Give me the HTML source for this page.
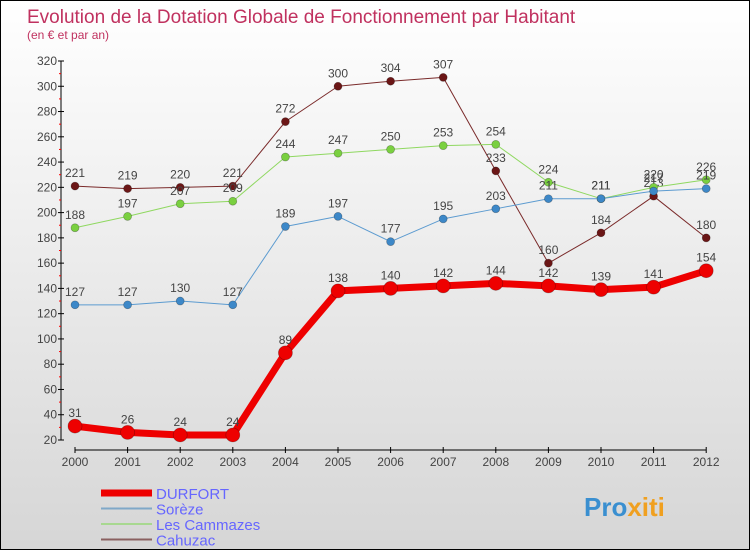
<!DOCTYPE html>
<html><head><meta charset="utf-8"><style>
html,body{margin:0;padding:0}
body{width:750px;height:550px;overflow:hidden;font-family:"Liberation Sans",sans-serif}
#c{position:absolute;left:0;top:0;width:748px;height:548px;border:1px solid #000;background:linear-gradient(#fff,#d6d6d6)}
</style></head><body>
<div id="c">
<svg id="s" width="748" height="548" xmlns="http://www.w3.org/2000/svg"></svg>
</div>
<script>
const years=[2000,2001,2002,2003,2004,2005,2006,2007,2008,2009,2010,2011,2012];
const durfort=[31,26,24,24,89,138,140,142,144,142,139,141,154];
const soreze=[127,127,130,127,189,197,177,195,203,211,211,217,219];
const cammazes=[188,197,207,209,244,247,250,253,254,224,211,220,226];
const cahuzac=[221,219,220,221,272,300,304,307,233,160,184,213,180];
const yTicks=[20,40,60,80,100,120,140,160,180,200,220,240,260,280,300,320];
const ns="http://www.w3.org/2000/svg";
const s=document.getElementById('s');
function X(i){return 74+i*52.6;}
function Y(v){return 439-(v-20)*(379/300);}
function el(t,a,txt){const e=document.createElementNS(ns,t);for(const k in a)e.setAttribute(k,a[k]);if(txt!==undefined)e.textContent=txt;s.appendChild(e);return e;}
let e;
e=el('text',{x:26,y:22,'font-size':19,fill:'#c0315f'},'Evolution de la Dotation Globale de Fonctionnement par Habitant');

e=el('text',{x:26,y:38,'font-size':12,fill:'#c0315f'},'(en € et par an)');

e=el('line',{x1:60,y1:Y(320),x2:60,y2:Y(20),stroke:'#000'});

yTicks.forEach((v,i)=>{
 e=el('line',{x1:57,y1:Y(v),x2:63,y2:Y(v),stroke:'#000'});
 
 if(i<yTicks.length-1){e=el('line',{x1:58,y1:Y(v+10),x2:60,y2:Y(v+10),stroke:'#f00'});
 }
 e=el('text',{x:56,y:Y(v)+4,'font-size':12,fill:'#444','text-anchor':'end'},v);
 
});
e=el('line',{x1:X(0),y1:449,x2:X(12),y2:449,stroke:'#000'});

years.forEach((y,i)=>{
 e=el('line',{x1:X(i),y1:446,x2:X(i),y2:452,stroke:'#000'});
 
 e=el('text',{x:X(i),y:465,'font-size':12,fill:'#444','text-anchor':'middle'},y);
 
});
function series(d,col,dot,w,r,name){
 e=el('polyline',{points:d.map((v,i)=>X(i)+','+Y(v)).join(' '),fill:'none',stroke:col,'stroke-width':w,'stroke-linejoin':'round'});
 
 d.forEach((v,i)=>{
  e=el('circle',{cx:X(i),cy:Y(v),r:r,fill:dot,stroke:'rgba(0,0,0,0.3)','stroke-width':0.7});
  
  e=el('text',{x:X(i),y:Y(v)-9,'font-size':12,fill:'#444','text-anchor':'middle'},v);
  
 });
}
series(cahuzac,'#7a2a2a','#6b1616',1,4,'cahuzac');
series(cammazes,'#8fd860','#7ad040',1,4,'cammazes');
series(soreze,'#5c9bd0','#3d88c8',1,4,'soreze');
series(durfort,'#ee0000','#ee0000',7,7,'durfort');
const leg=[['DURFORT','#ee0000',7],['Sorèze','#7fa8c8',2],['Les Cammazes','#a8d890',2],['Cahuzac','#8a6060',2]];
leg.forEach((l,i)=>{
 const y=492+i*15.5;
 e=el('line',{x1:100,y1:y,x2:151,y2:y,stroke:l[1],'stroke-width':l[2]});
 
 e=el('text',{x:155,y:y+6,'font-size':15,fill:'#6666ff'},l[0]);
 
});
e=el('text',{x:583,y:515,'font-size':26,'font-weight':'bold',fill:'#3a8fd0'});

e.innerHTML='Pro<tspan fill="#f0a020">xiti</tspan>';
</script>
</body></html>
